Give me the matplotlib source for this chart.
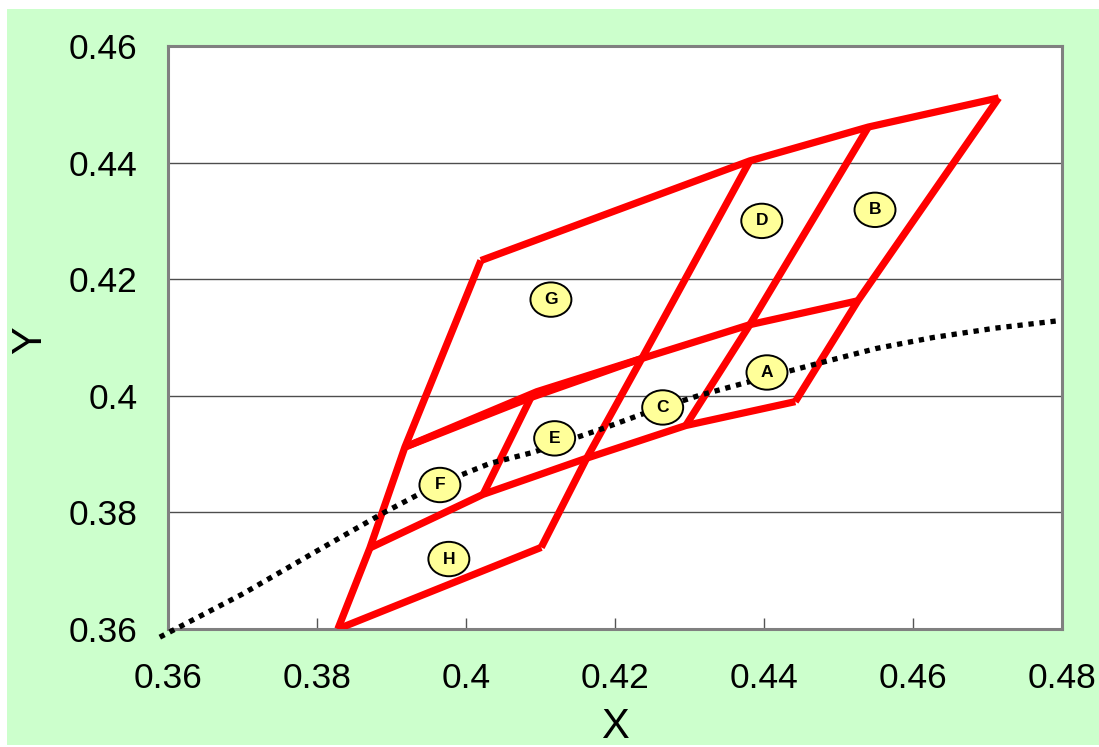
import matplotlib.pyplot as plt
from matplotlib.patches import Ellipse, Rectangle

plt.rcParams['font.family'] = ['Liberation Sans', 'DejaVu Sans']

# red boundary polylines (x list, y list)
top_x = [0.4020, 0.4381, 0.4540, 0.4715]
top_y = [0.4232, 0.4403, 0.4461, 0.4511]
left_x = [0.4020, 0.3918, 0.3871, 0.3828]
left_y = [0.4232, 0.3912, 0.3739, 0.3600]
mid_upper_x = [0.3918, 0.4095, 0.4236, 0.4381, 0.4526]
mid_upper_y = [0.3912, 0.4007, 0.4064, 0.4122, 0.4163]
mid_lower_x = [0.3918, 0.4087, 0.4236]
mid_lower_y = [0.3912, 0.3997, 0.4064]
low_x = [0.3871, 0.4023, 0.4162, 0.4295, 0.4442]
low_y = [0.3739, 0.3831, 0.3893, 0.3949, 0.3990]
bottom_x = [0.3828, 0.4101]
bottom_y = [0.3600, 0.3740]
col1_x = [0.4089, 0.4023]
col1_y = [0.4002, 0.3831]
col2_x = [0.4381, 0.4236, 0.4162, 0.4101]
col2_y = [0.4403, 0.4064, 0.3893, 0.3740]
col3_x = [0.4540, 0.4381, 0.4295]
col3_y = [0.4461, 0.4122, 0.3949]
col4_x = [0.4715, 0.4526, 0.4442]
col4_y = [0.4511, 0.4163, 0.3990]

red_lines = [(top_x, top_y), (left_x, left_y), (mid_upper_x, mid_upper_y),
             (mid_lower_x, mid_lower_y), (low_x, low_y), (bottom_x, bottom_y),
             (col1_x, col1_y), (col2_x, col2_y), (col3_x, col3_y), (col4_x, col4_y)]

# dotted locus
locus_x = [0.3589, 0.3700, 0.3800, 0.3889, 0.3960, 0.4032, 0.4090, 0.4184,
           0.4250, 0.4314, 0.4400, 0.4471, 0.4550, 0.4627, 0.4710, 0.4797]
locus_y = [0.3586, 0.3660, 0.3734, 0.3799, 0.3847, 0.3884, 0.3903, 0.3944,
           0.3975, 0.4001, 0.4031, 0.4055, 0.4081, 0.4100, 0.4116, 0.4129]

# region labels
labels = ['G', 'D', 'B', 'A', 'C', 'E', 'F', 'H']
label_x = [0.4114, 0.4397, 0.4549, 0.4404, 0.4264, 0.4119, 0.3965, 0.3977]
label_y = [0.4165, 0.4300, 0.4319, 0.4040, 0.3980, 0.3927, 0.3847, 0.3720]

x_ticks = [0.36, 0.38, 0.40, 0.42, 0.44, 0.46, 0.48]
x_tick_labels = ['0.36', '0.38', '0.4', '0.42', '0.44', '0.46', '0.48']
y_ticks = [0.36, 0.38, 0.40, 0.42, 0.44, 0.46]
y_tick_labels = ['0.36', '0.38', '0.4', '0.42', '0.44', '0.46']

fig = plt.figure(figsize=(10.99, 7.47), dpi=100)
fig.patch.set_facecolor('white')
fig.patches.append(Rectangle((7 / 1099, 1 - 745 / 747), 1, (745 - 9) / 747,
                             transform=fig.transFigure, facecolor='#ccffcc',
                             edgecolor='none', zorder=-10))

ax = fig.add_axes([168 / 1099, 1 - 629 / 747, 894 / 1099, 583 / 747])
ax.set_facecolor('white')
ax.set_xlim(0.36, 0.48)
ax.set_ylim(0.36, 0.46)

for yv in y_ticks[1:-1]:
    ax.axhline(yv, color='#4d4d4d', linewidth=1.0, zorder=1)

for xs, ys in red_lines:
    ax.plot(xs, ys, color='#ff0000', linewidth=5.2, solid_joinstyle='miter',
            solid_capstyle='butt', zorder=3)

ax.plot(locus_x, locus_y, color='black', linewidth=3.8, dashes=(1, 1.1),
        dash_capstyle='butt', clip_on=False, zorder=4)

for lab, lx, ly in zip(labels, label_x, label_y):
    ax.add_patch(Ellipse((lx, ly), 0.0055, 0.0059, facecolor='#ffff99',
                         edgecolor='black', linewidth=1.4, zorder=5))
    ax.text(lx, ly, lab, ha='center', va='center', fontsize=12.5,
            fontweight='bold', zorder=6)

ax.set_xticks(x_ticks)
ax.set_xticklabels(x_tick_labels)
ax.set_yticks(y_ticks)
ax.set_yticklabels(y_tick_labels)
ax.tick_params(axis='x', direction='in', length=8, width=1, color='#555555',
               labelsize=25.5, pad=24)
ax.tick_params(axis='y', direction='in', length=0, labelsize=25.5, pad=22)

for sp in ax.spines.values():
    sp.set_color('#808080')
    sp.set_linewidth(2.2)

fig.text(615 / 1099, 1 - 738 / 747, 'X', ha='center', va='baseline', fontsize=30)
fig.text(30 / 1099, 1 - 340 / 747, 'Y', ha='center', va='center', fontsize=30,
         rotation=90)

fig.savefig('out.png', dpi=100)
